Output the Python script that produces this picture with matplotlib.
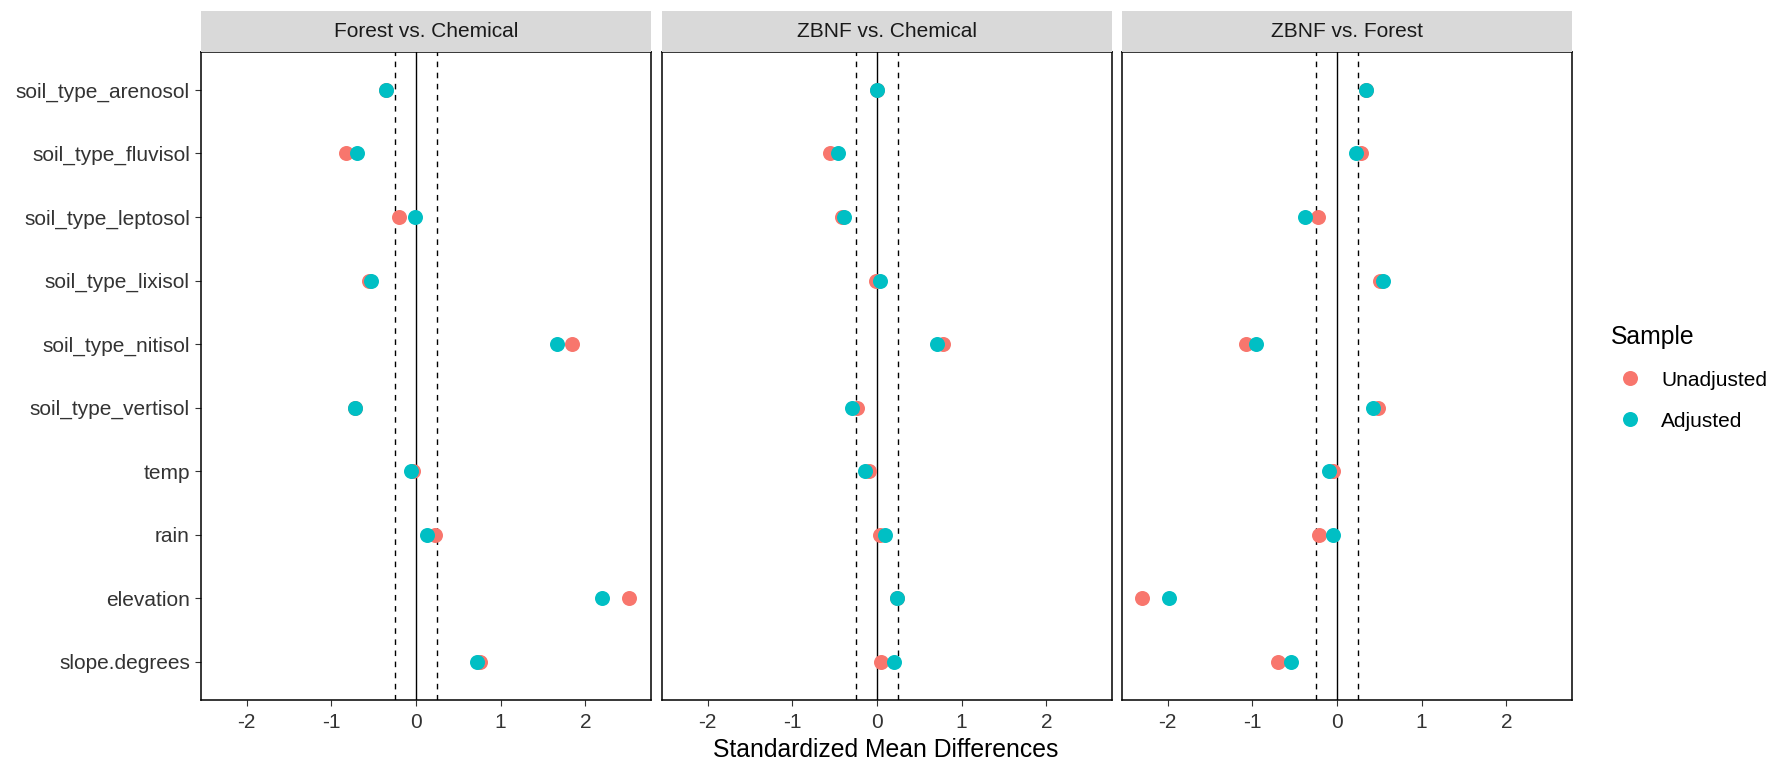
import numpy as np
import matplotlib
matplotlib.use("Agg")
from matplotlib import pyplot as plt
from matplotlib.lines import Line2D

plt.rcParams['font.family'] = ['Liberation Sans', 'DejaVu Sans']
plt.rcParams['axes.unicode_minus'] = False

# covariates, top to bottom
covariates = ["soil_type_arenosol", "soil_type_fluvisol", "soil_type_leptosol",
              "soil_type_lixisol", "soil_type_nitisol", "soil_type_vertisol",
              "temp", "rain", "elevation", "slope.degrees"]

panels = ["Forest vs. Chemical", "ZBNF vs. Chemical", "ZBNF vs. Forest"]

forest_chem_unadj = [-0.36, -0.83, -0.20, -0.56, 1.84, -0.72, -0.03, 0.23, 2.52, 0.75]
forest_chem_adj = [-0.36, -0.70, -0.015, -0.53, 1.66, -0.72, -0.06, 0.13, 2.20, 0.72]

zbnf_chem_unadj = [0.0, -0.56, -0.41, -0.01, 0.78, -0.24, -0.09, 0.04, 0.24, 0.05]
zbnf_chem_adj = [0.0, -0.46, -0.39, 0.03, 0.71, -0.29, -0.14, 0.10, 0.24, 0.20]

zbnf_forest_unadj = [0.34, 0.28, -0.22, 0.51, -1.08, 0.48, -0.05, -0.21, -2.30, -0.70]
zbnf_forest_adj = [0.34, 0.22, -0.38, 0.54, -0.96, 0.43, -0.10, -0.05, -1.98, -0.54]

unadj = [forest_chem_unadj, zbnf_chem_unadj, zbnf_forest_unadj]
adj = [forest_chem_adj, zbnf_chem_adj, zbnf_forest_adj]

threshold = 0.25
col_unadj = "#F8766D"
col_adj = "#00BFC4"

W, H = 1767, 763
fig = plt.figure(figsize=(W / 100, H / 100), dpi=100)

lefts = [201, 662, 1122]
pw = 449.5
top, bottom = 51.7, 700
strip_top = 10.7
ypos = np.arange(len(covariates), 0, -1)

small = 15
big = 17.8

for i in range(3):
    ax = fig.add_axes([lefts[i] / W, 1 - bottom / H, pw / W, (bottom - top) / H])
    ax.axvline(0, color="black", lw=1.0, zorder=1)
    ax.axvline(-threshold, color="black", lw=1.0, ls=(0, (4, 4)), zorder=1)
    ax.axvline(threshold, color="black", lw=1.0, ls=(0, (4, 4)), zorder=1)
    ax.plot(unadj[i], ypos, "o", color=col_unadj, ms=10.8, mew=0, zorder=2)
    ax.plot(adj[i], ypos, "o", color=col_adj, ms=10.8, mew=0, zorder=3)
    ax.set_xlim(-2.54, 2.77)
    ax.set_ylim(0.4, len(covariates) + 0.6)
    ax.set_xticks([-2, -1, 0, 1, 2])
    ax.set_yticks(ypos)
    ax.tick_params(axis="x", length=4, width=0.8, color="#333333",
                   labelsize=small, labelcolor="#333333", pad=5)
    if i == 0:
        ax.set_yticklabels(covariates)
        ax.tick_params(axis="y", length=4, width=0.8, color="#333333",
                       labelsize=small, labelcolor="#333333", pad=4)
    else:
        ax.tick_params(axis="y", length=0, labelleft=False)
    for s in ax.spines.values():
        s.set_linewidth(1.1)
        s.set_color("black")

    # facet strip
    sx = fig.add_axes([lefts[i] / W, 1 - top / H, pw / W, (top - strip_top) / H])
    sx.set_facecolor("#D9D9D9")
    sx.set_xticks([])
    sx.set_yticks([])
    for s in sx.spines.values():
        s.set_visible(False)
    sx.text(0.5, 0.5, panels[i], ha="center", va="center",
            fontsize=small, color="#1A1A1A", transform=sx.transAxes)

fig.text(886 / W, 1 - 750 / H, "Standardized Mean Differences",
         ha="center", va="center", fontsize=big, color="black")

handles = [Line2D([], [], marker="o", ls="", color=col_unadj, ms=10.8, mew=0),
           Line2D([], [], marker="o", ls="", color=col_adj, ms=10.8, mew=0)]
leg = fig.legend(handles, ["Unadjusted", "Adjusted"], title="Sample",
                 loc="upper left", bbox_to_anchor=(1592 / W, 1 - 306 / H),
                 frameon=False, fontsize=small, title_fontsize=big,
                 handletextpad=0.58, labelspacing=1.05, handlelength=1.83)
leg._legend_box.align = "left"

fig.savefig("out.png", dpi=100)
